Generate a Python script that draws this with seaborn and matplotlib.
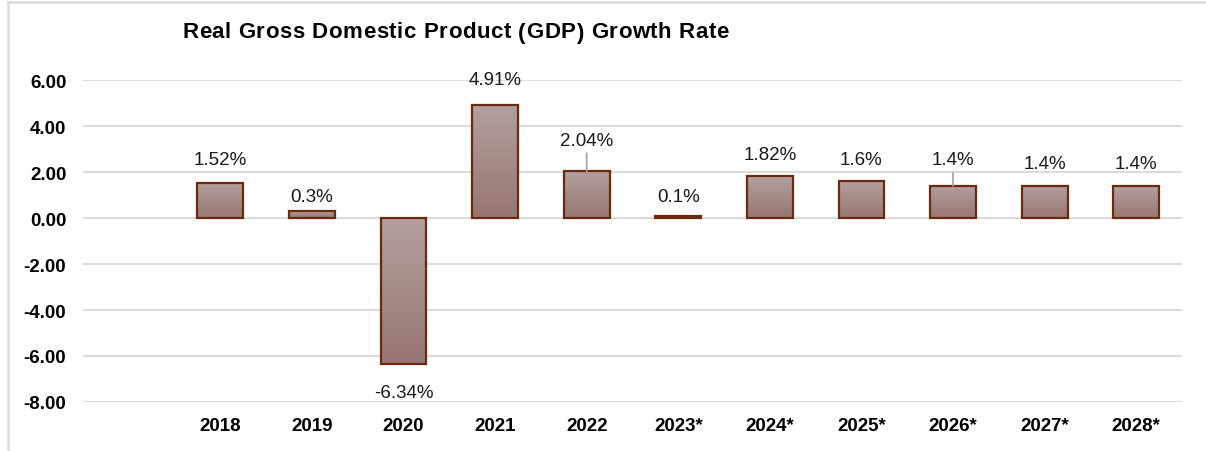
import numpy as np
import pandas as pd
import matplotlib
matplotlib.use("Agg")
import matplotlib.pyplot as plt
from matplotlib.lines import Line2D
from matplotlib.colors import LinearSegmentedColormap
import seaborn as sns

# Real GDP growth, percent (starred years are projections)
years = ["2018", "2019", "2020", "2021", "2022", "2023*",
         "2024*", "2025*", "2026*", "2027*", "2028*"]
growth = [1.52, 0.3, -6.34, 4.91, 2.04, 0.1, 1.82, 1.6, 1.4, 1.4, 1.4]
value_labels = ["1.52%", "0.3%", "-6.34%", "4.91%", "2.04%", "0.1%",
                "1.82%", "1.6%", "1.4%", "1.4%", "1.4%"]
y_ticks = [6, 4, 2, 0, -2, -4, -6, -8]
title = "Real Gross Domestic Product (GDP) Growth Rate"

# label placement (pixel offset from the bar end) and which labels get a leader line
label_offsets = [24, 15, -29, 26, 31, 19, 22, 22, 26, 22, 22]
leader = [False, False, False, False, True, False, False, False, True, False, False]

df = pd.DataFrame({"year": years, "growth": growth})

sns.set_theme(style="white")
plt.rcParams["font.family"] = ["Liberation Sans", "DejaVu Sans"]

W, H = 1206, 452
fig = plt.figure(figsize=(W / 100, H / 100), dpi=100)
ax = fig.add_axes([83 / W, 49 / H, (1182 - 83) / W, (403 - 81) / H])

edge = "#6b2a10"
sns.barplot(data=df, x="year", y="growth", width=0.5, color="#a58c89",
            edgecolor=edge, linewidth=1.6, ax=ax, zorder=3)

# vertical gradient fill inside every bar
cmap = LinearSegmentedColormap.from_list("bar", ["#b3a09e", "#977671"])
grad = np.linspace(0, 1, 256).reshape(-1, 1)
for patch in ax.patches:
    x0, y0 = patch.get_x(), patch.get_y()
    w, h = patch.get_width(), patch.get_height()
    lo, hi = min(y0, y0 + h), max(y0, y0 + h)
    im = ax.imshow(grad, cmap=cmap, aspect="auto", origin="upper",
                   extent=[x0, x0 + w, lo, hi], zorder=2.5, interpolation="bilinear")
    im.set_clip_path(patch)
    patch.set_facecolor("none")

ax.set_xlim(-1.5, len(years) - 0.5)
ax.set_ylim(-8, 6)
ax.set_yticks(y_ticks)
ax.set_yticklabels([f"{t:.2f}" for t in y_ticks])
ax.yaxis.grid(True, color="#d9d9d9", linewidth=1.3)
ax.set_axisbelow(True)
for s in ax.spines.values():
    s.set_visible(False)
ax.tick_params(axis="both", length=0, labelsize=13.5)
ax.tick_params(axis="y", pad=12)
ax.tick_params(axis="x", pad=11)
for lab in ax.get_xticklabels() + ax.get_yticklabels():
    lab.set_fontweight("bold")
    lab.set_color("#000000")
ax.set_xlabel("")
ax.set_ylabel("")

for i, (v, txt, off, ld) in enumerate(zip(growth, value_labels, label_offsets, leader)):
    kw = {}
    if ld:
        kw["arrowprops"] = dict(arrowstyle="-", color="#a6a6a6", lw=1.3,
                                shrinkA=1, shrinkB=0)
    ax.annotate(txt, xy=(i, v), xytext=(0, off), textcoords="offset pixels",
                ha="center", va="center", fontsize=13.5, color="#1a1a1a",
                annotation_clip=False, **kw)

# title drawn glyph by glyph with a little extra tracking
renderer = fig.canvas.get_renderer()
title_kw = dict(fontsize=16, fontweight="bold", color="#000000")


def text_width(s):
    t = fig.text(0, 0, s, **title_kw)
    wpx = t.get_window_extent(renderer).width
    t.remove()
    return wpx


base = text_width("HH")
tracking = 0.6
xpix = 182.0
for ch in title:
    fig.text(xpix / W, 1 - 33 / H, ch, ha="left", va="center", **title_kw)
    xpix += text_width("H" + ch + "H") - base + tracking

# light frame along the top and left of the chart area
fig.add_artist(Line2D([7.5 / W, 1.0], [1 - 2.5 / H, 1 - 2.5 / H],
                      transform=fig.transFigure, color="#d9d9d9", lw=1.8))
fig.add_artist(Line2D([7.5 / W, 7.5 / W], [0.0, 1 - 2.5 / H],
                      transform=fig.transFigure, color="#d9d9d9", lw=1.8))

fig.savefig("out.png", dpi=100, facecolor="white")
